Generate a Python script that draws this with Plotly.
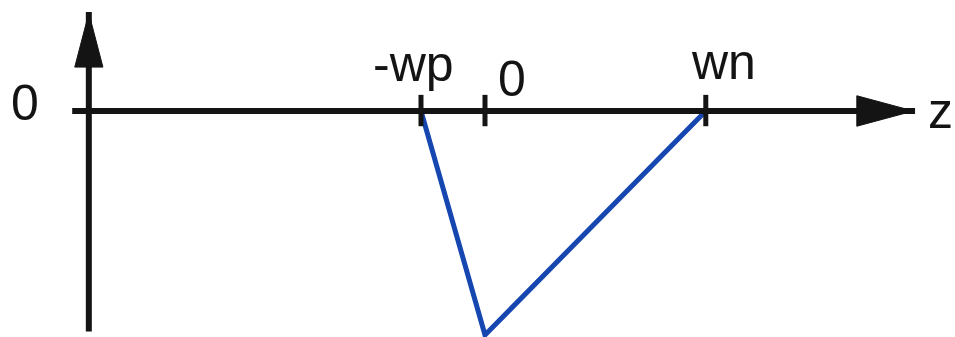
import plotly.graph_objects as go

# Positions along the z axis
wp = 1.0
wn = 3.45
z_ticks = [-wp, 0.0, wn]
z_labels = ["-wp", "0", "wn"]
# placement of each tick label relative to its tick
label_dx = [-0.115, 0.42, 0.27]
label_y = [0.212, 0.143, 0.217]

# Piecewise-linear profile: zero at -wp and wn, minimum at z = 0
z_curve = [-wp, 0.0, wn]
f_curve = [0.0, -1.0, 0.0]

# Axis extents (data units)
z_left, z_tip = -6.45, 6.72
f_axis_z = -6.19
f_bottom, f_tip = -0.985, 0.442

BLACK = "#141414"
BLUE = "#1646b0"
FONT = "Liberation Sans, Arial, sans-serif"
FSIZE = 50

fig = go.Figure()

# profile curve
fig.add_trace(go.Scatter(
    x=z_curve, y=f_curve, mode="lines",
    line=dict(color=BLUE, width=5), hoverinfo="skip", showlegend=False,
))

shapes = []
# horizontal z axis with arrowhead
shapes.append(dict(type="line", x0=z_left, x1=z_tip, y0=0, y1=0,
                   line=dict(color=BLACK, width=6)))
shapes.append(dict(type="path",
                   path="M 5.81,0.068 L 6.59,0.008 L 6.59,-0.008 L 5.81,-0.068 Z",
                   fillcolor=BLACK, line=dict(color=BLACK, width=1)))
# vertical axis with arrowhead
shapes.append(dict(type="line", x0=f_axis_z, x1=f_axis_z, y0=f_bottom, y1=f_tip,
                   line=dict(color=BLACK, width=6)))
shapes.append(dict(type="path",
                   path=f"M {f_axis_z-0.22},0.196 L {f_axis_z-0.02},0.415 "
                        f"L {f_axis_z+0.02},0.415 L {f_axis_z+0.22},0.196 Z",
                   fillcolor=BLACK, line=dict(color=BLACK, width=1)))
# tick marks
for zt in z_ticks:
    shapes.append(dict(type="line", x0=zt, x1=zt, y0=-0.068, y1=0.072,
                       line=dict(color=BLACK, width=5)))

annotations = []
for zt, lab, dx, ly in zip(z_ticks, z_labels, label_dx, label_y):
    annotations.append(dict(x=zt + dx, y=ly, text=lab, showarrow=False,
                            xanchor="center", yanchor="middle",
                            font=dict(family=FONT, size=FSIZE, color=BLACK)))
annotations.append(dict(x=-7.19, y=0.036, text="0", showarrow=False,
                        xanchor="center", yanchor="middle",
                        font=dict(family=FONT, size=FSIZE, color=BLACK)))
annotations.append(dict(x=7.125, y=0.002, text="z", showarrow=False,
                        xanchor="center", yanchor="middle",
                        font=dict(family=FONT, size=FSIZE, color=BLACK)))

fig.update_layout(
    width=955, height=337,
    margin=dict(l=0, r=0, t=0, b=0),
    paper_bgcolor="white", plot_bgcolor="white",
    shapes=shapes, annotations=annotations,
    xaxis=dict(range=[-7.578, 7.344], visible=False, fixedrange=True),
    yaxis=dict(range=[-1.009, 0.4955], visible=False, fixedrange=True),
)

fig.write_html("out.html")
